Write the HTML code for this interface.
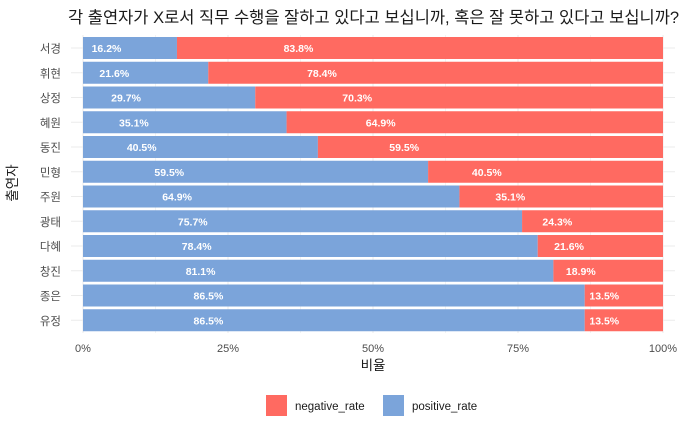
<!DOCTYPE html>
<html><head><meta charset="utf-8">
<style>
html,body{margin:0;padding:0;background:#fff;}
svg{display:block;font-family:"Liberation Sans","Noto Sans CJK KR",sans-serif;}
</style></head>
<body>
<svg id="chart" width="700" height="432" viewBox="0 0 700 432">
<text x="68" y="23" font-size="16.5" fill="#1a1a1a">각 출연자가 X로서 직무 수행을 잘하고 있다고 보십니까, 혹은 잘 못하고 있다고 보십니까?</text>
<g id="grid"></g>
<g id="bars"></g>
<g id="labels"></g>
<g id="axes"></g>
<text x="373" y="370" font-size="13.5" fill="#1a1a1a" text-anchor="middle">비율</text>
<text transform="translate(17,183) rotate(-90)" font-size="13.5" fill="#1a1a1a" text-anchor="middle">출연자</text>
<g>
<g>
<rect x="266" y="395" width="21" height="21" fill="#FF6A61"/>
<text x="295" y="410" font-size="11.5" fill="#1a1a1a">negative_rate</text>
</g>
<g>
<rect x="383" y="395" width="21" height="21" fill="#7BA4DA"/>
<text x="412" y="410" font-size="11.5" fill="#1a1a1a">positive_rate</text>
</g>
</g>
</svg>
<script>
const categories = ["서경","휘현","상정","혜원","동진","민형","주원","광태","다혜","창진","종은","유정"];
const positiveRate = [16.2,21.6,29.7,35.1,40.5,59.5,64.9,75.7,78.4,81.1,86.5,86.5];
const negativeRate = [83.8,78.4,70.3,64.9,59.5,40.5,35.1,24.3,21.6,18.9,13.5,13.5];
const xTicks = [0,25,50,75,100];
const xTickLabels = ["0%","25%","50%","75%","100%"];

const NS="http://www.w3.org/2000/svg";
const x0=83, x1=663, yTop=48, step=24.75, bh=22;
const xs=v=>x0+(v/100)*(x1-x0);
const yc=i=>yTop+i*step;
function mk(tag,attrs,parent){const e=document.createElementNS(NS,tag);for(const k in attrs)e.setAttribute(k,attrs[k]);parent.appendChild(e);return e;}
const grid=document.getElementById('grid'),bars=document.getElementById('bars'),labels=document.getElementById('labels'),axes=document.getElementById('axes');
const gTop=35, gBot=333;
for(let t=0;t<=100;t+=12.5){
  const l=mk('line',{x1:xs(t),x2:xs(t),y1:gTop,y2:gBot,stroke:'#ebebeb','stroke-width':(t%25===0)?1:0.6},grid);
  
  
}
categories.forEach((c,i)=>{
  const l=mk('line',{x1:x0-12,x2:x1+12,y1:yc(i),y2:yc(i),stroke:'#ebebeb','stroke-width':1},grid);
  
  
  const p=positiveRate[i], n=negativeRate[i];
  const rb=mk('rect',{x:xs(0),y:yc(i)-bh/2,width:xs(p)-xs(0),height:bh,fill:'#7BA4DA'},bars);
  
  
  const rr=mk('rect',{x:xs(p),y:yc(i)-bh/2,width:xs(p+n)-xs(p),height:bh,fill:'#FF6A61'},bars);
  
  
  const t1=mk('text',{x:xs(p/4),y:yc(i)+4,'font-size':10.5,'font-weight':'bold',fill:'#fff','text-anchor':'middle'},labels);
  t1.textContent=p.toFixed(1)+'%';
  
  
  const t2=mk('text',{x:xs(p+n/4),y:yc(i)+4,'font-size':10.5,'font-weight':'bold',fill:'#fff','text-anchor':'middle'},labels);
  t2.textContent=n.toFixed(1)+'%';
  
  
  const yl=mk('text',{x:x0-35,y:yc(i)+4.5,'font-size':11.5,fill:'#4d4d4d','text-anchor':'end'},axes);
  yl.setAttribute('x',x0-36+22);
  yl.setAttribute('text-anchor','end');
  yl.setAttribute('x',61);
  yl.textContent=c;
  
  
});
xTicks.forEach((t,i)=>{
  const tl=mk('text',{x:xs(t),y:352,'font-size':11,fill:'#4d4d4d','text-anchor':'middle'},axes);
  tl.textContent=xTickLabels[i];
  
  
});
</script>
</body></html>
